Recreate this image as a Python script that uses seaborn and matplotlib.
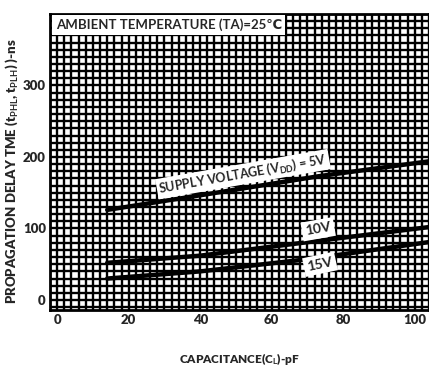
import numpy as np
import pandas as pd
import seaborn as sns
import matplotlib.pyplot as plt
from matplotlib.ticker import MultipleLocator

# values
cap_5v = [14, 42, 73, 104]
delay_5v = [126, 148, 173, 194]
cap_10v = [14, 40, 75, 104]
delay_10v = [52, 62, 84, 102]
cap_15v = [14, 40, 70, 104]
delay_15v = [30, 40, 57, 81]

x_ticks = [0, 20, 40, 60, 80, 100]
y_ticks = [0, 100, 200, 300]

df = pd.concat([
    pd.DataFrame({"cap": cap_5v, "delay": delay_5v, "vdd": "5V"}),
    pd.DataFrame({"cap": cap_10v, "delay": delay_10v, "vdd": "10V"}),
    pd.DataFrame({"cap": cap_15v, "delay": delay_15v, "vdd": "15V"}),
])

sns.set_style("white")
plt.rcParams['font.family'] = ['Lato', 'DejaVu Sans']
plt.rcParams['font.weight'] = 'bold'
plt.rcParams['mathtext.fontset'] = 'custom'
plt.rcParams['mathtext.rm'] = 'Lato:bold'
plt.rcParams['mathtext.it'] = 'Lato:bold'

fig = plt.figure(figsize=(4.29, 3.67), dpi=100)
ax = fig.add_axes([50 / 429, 1 - 310 / 367, 1 - 50 / 429, (310 - 14) / 367])

sns.lineplot(data=df, x="cap", y="delay", units="vdd", estimator=None,
             color="black", lw=3.2, ax=ax, zorder=3)

ax.set_xlim(-2, 104)
ax.set_ylim(-14, 400)
ax.set_xticks(x_ticks)
ax.set_yticks(y_ticks)
ax.xaxis.set_minor_locator(MultipleLocator(2))
ax.yaxis.set_minor_locator(MultipleLocator(10))
ax.grid(which="both", color="black", lw=1.7)
ax.tick_params(which="both", length=0, labelsize=9.5, pad=3)
for lab in ax.get_xticklabels() + ax.get_yticklabels():
    lab.set_fontweight("heavy")
for s in ax.spines.values():
    s.set_color("black")
    s.set_linewidth(2)

ax.set_xlabel(r"CAPACITANCE(C$_{\mathrm{L}}$)-pF", fontsize=8.5,
              fontweight="heavy")
ax.xaxis.set_label_coords(0.5, -0.14)
ax.set_ylabel(r"PROPAGATION DELAY TME (t$_{\mathrm{PHL}}$, t$_{\mathrm{PLH}}$) )-ns",
              fontsize=9.5, fontweight="heavy")
ax.yaxis.set_label_coords(-0.08, 0.47)

box = dict(facecolor="white", edgecolor="none", pad=1.5)
ax.text(0.015, 0.985, "AMBIENT TEMPERATURE (TA)=25℃", transform=ax.transAxes,
        ha="left", va="top", fontsize=9.5, fontweight="bold",
        bbox=dict(facecolor="white", edgecolor="none", pad=2.5), zorder=5)
ax.text(52, 176, r"SUPPLY VOLTAGE (V$_{\mathrm{DD}}$) = 5V", rotation=10,
        ha="center", va="center", fontsize=9, fontweight="bold",
        bbox=box, zorder=5)
ax.text(73, 99, "10V", rotation=10, ha="center", va="center",
        fontsize=10, fontweight="bold", bbox=dict(facecolor="white", edgecolor="none", pad=2.5), zorder=5)
ax.text(73.5, 50, "15V", rotation=12, ha="center", va="center",
        fontsize=10, fontweight="bold", bbox=dict(facecolor="white", edgecolor="none", pad=2.5), zorder=5)

fig.savefig("out.png", dpi=100)
